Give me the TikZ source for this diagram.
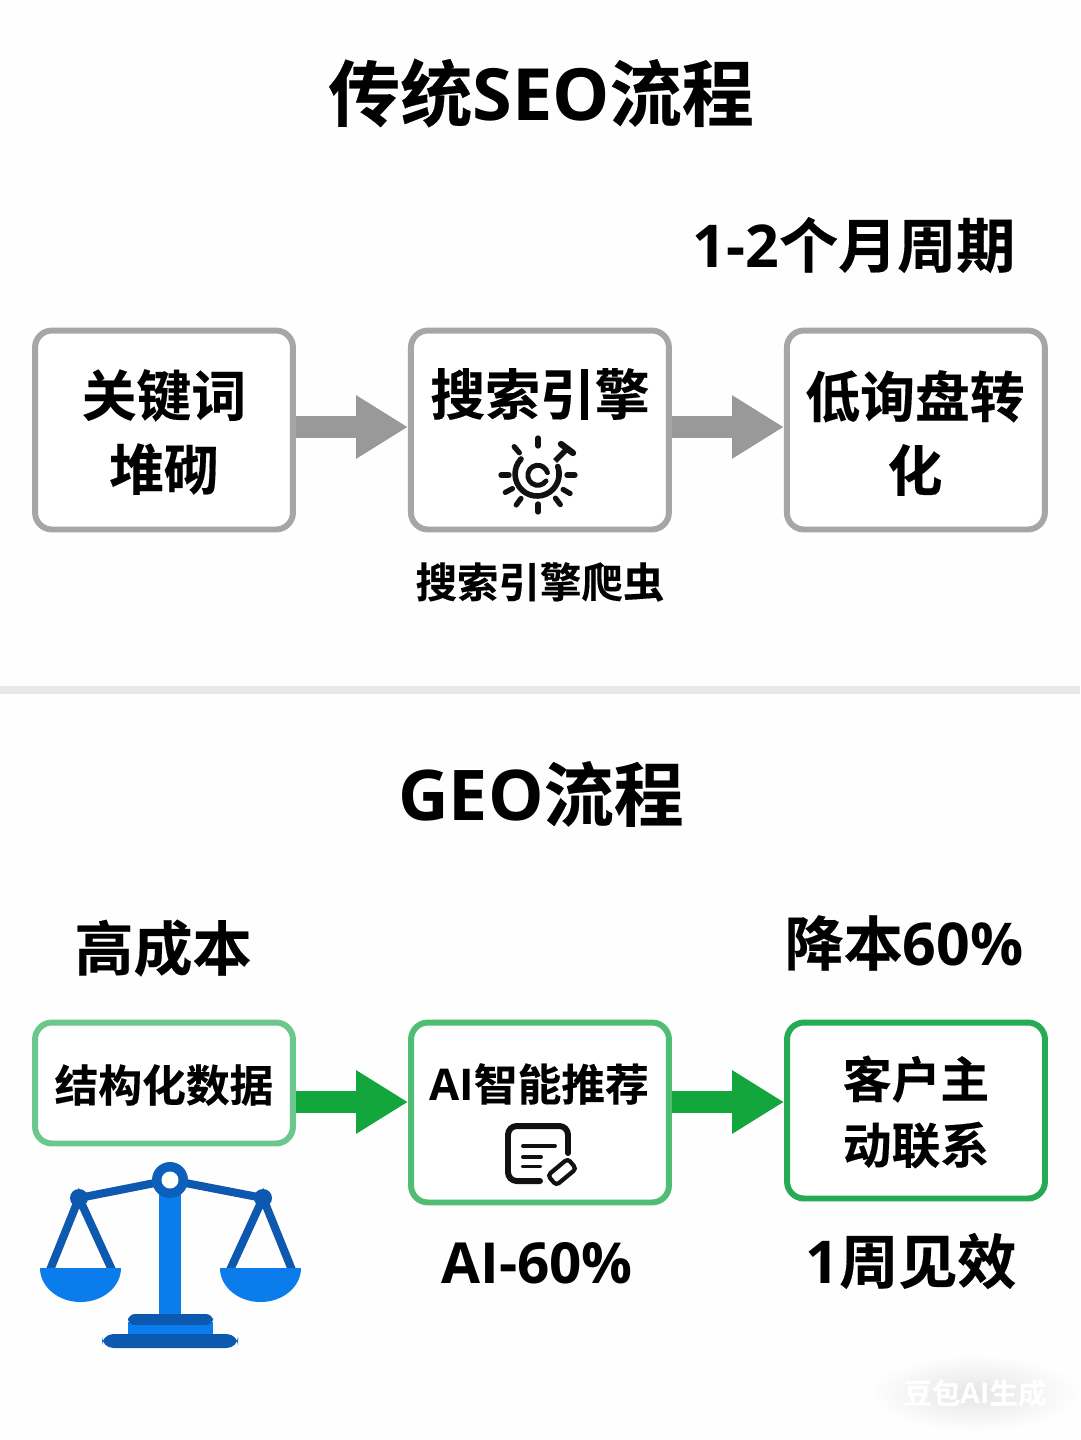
\documentclass[tikz,border=0pt]{standalone}
\usepackage{fontspec}
\setmainfont{Noto Sans CJK SC Bold}[FakeBold=0.3]
\newfontfamily\latinfont{Open Sans}
\usepackage{tikz}
\usetikzlibrary{arrows.meta,positioning,shapes,calc}
\definecolor{pagebg}{HTML}{FDFEFD}
\definecolor{rulegray}{HTML}{E9E9E6}
\definecolor{boxgray}{HTML}{A6A6A6}
\definecolor{arrowgray}{HTML}{999999}
\definecolor{arrowgreen}{HTML}{12A63C}
\definecolor{greena}{HTML}{6CC78C}
\definecolor{greenb}{HTML}{4FBD72}
\definecolor{greenc}{HTML}{26AB55}
\definecolor{iconblack}{HTML}{111111}
\definecolor{scaleblue}{HTML}{0A7CEB}
\definecolor{scaledark}{HTML}{0D59B0}
\newcommand{\lat}[1]{{\latinfont\bfseries #1}}
\newcommand{\fsz}[2]{\fontsize{#1}{#2}\selectfont}
\tikzset{
  flowbox/.style={draw, line width=3.4pt, rounded corners=0.34cm, fill=white, minimum width=5.16cm, align=center, text=black},
  flowgray/.style={flowbox, draw=boxgray, minimum height=3.98cm},
  flowarrow/.style={line width=13pt, -{Triangle[length=29.5pt,width=34pt]}},
  titletext/.style={font=\fsz{41}{48}, text=black},
  sidetext/.style={font=\fsz{33.6}{40}, text=black},
  boxtext/.style={font=\fsz{31.2}{42}, text=black, align=center},
  smalltext/.style={font=\fsz{24.9}{32}, text=black, align=center},
  iconline/.style={line width=2.2pt, line cap=round, draw=iconblack},
  rayline/.style={line width=3pt, line cap=round, draw=iconblack},
  chain/.style={line width=4.6pt, draw=scaledark}
}
\begin{document}
\begin{tikzpicture}[x=0.02cm, y=-0.02cm, on grid]
  \useasboundingbox (0,0) rectangle (1080,1440);
  \fill[pagebg] (0,0) rectangle (1080,1440);
  \node[minimum width=21.6cm, minimum height=0.16cm, inner sep=0pt, fill=rulegray] (divider) at (540,690) {};

  \node[titletext] (seotitle) at (541,93) {传统\lat{SEO}流程};
  \node[sidetext] (seotime) at (854,245) {\lat{1-2}个月周期};

  \coordinate (grayrow) at (0,427);
  \node[flowgray] (keyword) at (164,430) {};
  \node[flowgray, right=7.52cm of keyword] (engine) {};
  \node[flowgray, right=7.52cm of engine] (convert) {};
  \node[boxtext] (keywordtext) at (164,432) {关键词\\堆砌};
  \node[boxtext, above=0.72cm of engine] (enginetext) {搜索引擎};
  \node[boxtext] (converttext) at (915,433) {低询盘转\\化};
  \node[font=\fsz{23.6}{30}, below=3.04cm of engine] (crawler) {搜索引擎爬虫};
  \draw[flowarrow, arrowgray] (keyword.east |- grayrow) -- (engine.west |- grayrow);
  \draw[flowarrow, arrowgray] (engine.east |- grayrow) -- (convert.west |- grayrow);

  \foreach \ang in {0,30,53,90,126,152,180,230,270}
    \draw[rayline] ($(538,475)+(\ang:29)$) -- ($(538,475)+(\ang:37)$);
  \draw[line width=3.2pt, iconblack, line cap=round] (521,459) arc[start angle=223, end angle=-20, radius=22];
  \draw[line width=2.8pt, iconblack, line cap=round] (546,481) arc[start angle=35, end angle=345, radius=10];
  \draw[line width=3.2pt, iconblack] (555,461) -- (568,448);
  \draw[line width=3.6pt, iconblack, line cap=round] (561,444) -- (573,453);

  \node[titletext, font=\fsz{39.8}{48}] (geotitle) at (541,794) {\lat{GEO}流程};
  \node[sidetext] (highcost) at (163,948) {高成本};
  \node[sidetext] (lowcost) at (904,943) {降本\lat{60\%}};

  \coordinate (greenrow) at (0,1102);
  \node[flowbox, draw=greena, minimum height=2.42cm] (struct) at (164,1083) {};
  \node[flowbox, draw=greenb, minimum height=3.6cm] (airec) at (540,1112.5) {};
  \node[flowbox, draw=greenc, minimum height=3.52cm] (client) at (916,1110.5) {};
  \node[smalltext] (structtext) at (164,1085) {结构化数据};
  \node[smalltext] (airectext) at (539,1084) {\lat{AI}智能推荐};
  \node[font=\fsz{27.8}{37.4}, align=center] (clienttext) at (916,1112) {客户主\\动联系};
  \draw[flowarrow, arrowgreen] (struct.east |- greenrow) -- (airec.west |- greenrow);
  \draw[flowarrow, arrowgreen] (airec.east |- greenrow) -- (client.west |- greenrow);
  \node[sidetext, font=\fsz{32.2}{40}] (aicut) at (537,1263) {\lat{AI-60\%}};
  \node[sidetext] (oneweek) at (911,1261) {\lat{1}周见效};

  \draw[line width=3.4pt, iconblack, line cap=round, rounded corners=5pt] (568,1153) -- (568,1126) -- (508,1126) -- (508,1181) -- (540,1181);
  \draw[iconline] (523,1146) -- (555,1146);
  \draw[iconline] (523,1157) -- (541,1157);
  \draw[iconline] (523,1166.5) -- (540,1166.5);
  \draw[line width=2.4pt, iconblack, fill=white, rounded corners=2pt] (576.2,1168.7) -- (567.8,1158.7) -- (547.8,1175.3) -- (556.2,1185.3) -- cycle;

  \draw[chain] (79,1198) -- (170,1180) -- (263,1198);
  \draw[chain] (50,1270) -- (79,1198) -- (112,1270);
  \draw[chain] (230,1270) -- (263,1198) -- (292,1270);
  \fill[scaledark] (79,1198) circle (9);
  \fill[scaledark] (263,1198) circle (9);
  \fill[scaleblue] (159,1190) rectangle (181,1316);
  \fill[scaledark!80!scaleblue] (170,1180) circle (18);
  \fill[white] (170,1180) circle (8.5);
  \fill[scaleblue] (121,1268) arc[start angle=0, end angle=180, x radius=40.5, y radius=34] -- cycle;
  \fill[scaleblue] (301,1268) arc[start angle=0, end angle=180, x radius=40.5, y radius=34] -- cycle;
  \fill[scaleblue] (128,1322) rectangle (213,1336);
  \fill[scaledark, rounded corners=4pt] (128,1325) -- (128,1314) -- (213,1314) -- (213,1325) -- cycle;
  \fill[scaledark, rounded corners=6.5pt] (102,1334) rectangle (238,1348);

  \shade[inner color=black!10, outer color=pagebg, draw=none] (975,1393) ellipse (105 and 38);
  \node[font=\fsz{16.2}{20}, text=white] (watermark) at (975,1393) {豆包\lat{AI}生成};
\end{tikzpicture}
\end{document}
